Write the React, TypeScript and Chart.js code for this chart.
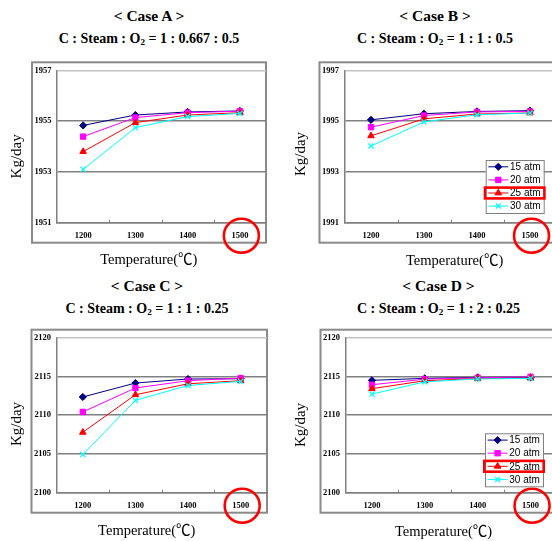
import React, { useEffect, useRef } from 'react';
import { Chart, registerables } from 'chart.js';
import { drawPoint } from 'chart.js/helpers';

Chart.register(...registerables);

// ---------- data ----------
const temperatures = ['1200', '1300', '1400', '1500'];
const pressureLabels = ['15 atm', '20 atm', '25 atm', '30 atm'];
const seriesColors = ['#000080', '#FF00FF', '#FF0000', '#00FFFF'];
const seriesMarkers = ['rectRot', 'rect', 'triangle', 'crossRot'];

const caseA_15 = [1954.83, 1955.24, 1955.36, 1955.4];
const caseA_20 = [1954.39, 1955.14, 1955.33, 1955.39];
const caseA_25 = [1953.8, 1954.94, 1955.24, 1955.33];
const caseA_30 = [1953.1, 1954.74, 1955.18, 1955.3];

const caseB_15 = [1995.05, 1995.29, 1995.38, 1995.41];
const caseB_20 = [1994.76, 1995.22, 1995.36, 1995.38];
const caseB_25 = [1994.42, 1995.09, 1995.28, 1995.32];
const caseB_30 = [1994.02, 1994.97, 1995.25, 1995.32];

const caseC_15 = [2112.35, 2114.15, 2114.67, 2114.7];
const caseC_20 = [2110.42, 2113.51, 2114.45, 2114.79];
const caseC_25 = [2107.79, 2112.64, 2114.06, 2114.45];
const caseC_30 = [2104.92, 2111.91, 2113.84, 2114.36];

const caseD_15 = [2114.5, 2114.75, 2114.87, 2114.9];
const caseD_20 = [2113.93, 2114.65, 2114.83, 2114.95];
const caseD_25 = [2113.42, 2114.45, 2114.72, 2114.78];
const caseD_30 = [2112.73, 2114.3, 2114.68, 2114.75];

const yTicksA = [1951, 1953, 1955, 1957];
const yTicksB = [1991, 1993, 1995, 1997];
const yTicksCD = [2100, 2105, 2110, 2115, 2120];

const caseTitles = ['< Case A >', '< Case B >', '< Case C >', '< Case D >'];
const ratioTexts = ['1 : 0.667 : 0.5', '1 : 1 : 0.5', '1 : 1 : 0.25', '1 : 2 : 0.25'];
const xAxisTitle = 'Temperature(℃)';
const yAxisTitle = 'Kg/day';

// ---------- layout ----------
type Layout = {
  left: number; top: number; width: number; height: number;
  area: { l: number; t: number; r: number; b: number };
  xTitle: [number, number]; yTitle: [number, number];
  legend?: { dx: number; dy: number };
  titleCenter: number; titleTop: number;
};

const layouts: Layout[] = [
  { left: 0, top: 55, width: 276, height: 215, area: { l: 57, t: 15.3, r: 266, b: 167.7 },
    xTitle: [148.8, 205], yTitle: [17, 101.3], titleCenter: 149, titleTop: 0 },
  { left: 276, top: 55, width: 290, height: 215, area: { l: 68.5, t: 15.3, r: 280.5, b: 167.7 },
    xTitle: [178.6, 206.5], yTitle: [25, 99], legend: { dx: -70.8, dy: 89.7 }, titleCenter: 435, titleTop: 0 },
  { left: 0, top: 325, width: 276, height: 216, area: { l: 56.5, t: 12.7, r: 267, b: 167.7 },
    xTitle: [146.7, 206], yTitle: [16.7, 99], titleCenter: 147, titleTop: 270 },
  { left: 276, top: 325, width: 290, height: 216, area: { l: 69.5, t: 12.7, r: 281, b: 167.7 },
    xTitle: [167.5, 206.7], yTitle: [25, 100], legend: { dx: -72, dy: 95.6 }, titleCenter: 438.5, titleTop: 270 },
];

const serif = "'Liberation Serif', 'Times New Roman', 'Noto Sans CJK KR', serif";

const decorPlugin = {
  id: 'decor',
  beforeDraw(chart: any) {
    const { ctx, chartArea: a } = chart;
    ctx.save();
    ctx.fillStyle = '#ffffff';
    ctx.fillRect(0, 0, chart.width, chart.height);
    ctx.strokeStyle = '#8a8a8a';
    ctx.lineWidth = 2;
    ctx.strokeRect(a.left - 25, a.top - 8, a.right - a.left + 25, a.bottom - a.top + 28);
    ctx.restore();
  },
  afterDraw(chart: any, _args: any, opts: any) {
    const { ctx, chartArea: a } = chart;
    const xs = chart.scales.x;
    ctx.save();
    // inner tick marks on category boundaries
    ctx.strokeStyle = '#808080';
    ctx.lineWidth = 1;
    for (let i = 0; i < temperatures.length - 1; i++) {
      const x = Math.round((xs.getPixelForTick(i) + xs.getPixelForTick(i + 1)) / 2) + 0.5;
      ctx.beginPath();
      ctx.moveTo(x, a.bottom);
      ctx.lineTo(x, a.bottom - 3);
      ctx.stroke();
    }
    // axis titles
    ctx.fillStyle = '#000';
    ctx.textAlign = 'center';
    ctx.textBaseline = 'middle';
    ctx.font = `14.5px ${serif}`;
    ctx.fillText(xAxisTitle, opts.xTitle[0], opts.xTitle[1]);
    ctx.save();
    ctx.translate(opts.yTitle[0], opts.yTitle[1]);
    ctx.rotate(-Math.PI / 2);
    ctx.font = `15px ${serif}`;
    ctx.fillText(yAxisTitle, 0, 0);
    ctx.restore();
    // red circle around last category label
    const last = temperatures.length - 1;
    ctx.strokeStyle = '#FF0000';
    ctx.lineWidth = 2.6;
    ctx.beginPath();
    ctx.ellipse(xs.getPixelForTick(last) + 1.5, a.bottom + 13, 17.5, 17, 0, 0, Math.PI * 2);
    ctx.stroke();
    // legend
    if (opts.legend) {
      const lx = a.right + opts.legend.dx;
      const ly = a.top + opts.legend.dy;
      const w = 58, h = 53;
      ctx.fillStyle = '#fff';
      ctx.fillRect(lx, ly, w, h);
      ctx.strokeStyle = '#808080';
      ctx.lineWidth = 1;
      ctx.strokeRect(lx + 0.5, ly + 0.5, w, h);
      chart.data.datasets.forEach((ds: any, i: number) => {
        const cy = ly + 6.8 + i * 13.1;
        ctx.strokeStyle = ds.borderColor;
        ctx.lineWidth = 1;
        ctx.beginPath();
        ctx.moveTo(lx + 2.6, cy);
        ctx.lineTo(lx + 22.6, cy);
        ctx.stroke();
        ctx.fillStyle = ds.backgroundColor;
        ctx.strokeStyle = ds.borderColor;
        ctx.lineWidth = ds.pointBorderWidth;
        drawPoint(ctx, { pointStyle: ds.pointStyle, radius: ds.pointRadius, rotation: 0, borderWidth: ds.pointBorderWidth } as any, lx + 12.6, cy);
        ctx.fillStyle = '#000';
        ctx.textAlign = 'left';
        ctx.textBaseline = 'middle';
        ctx.font = "10px 'Liberation Sans', Arial, sans-serif";
        ctx.fillText(ds.label, lx + 24.3, cy + 0.5);
      });
      const hy = ly + 6.8 + 2 * 13.1;
      ctx.strokeStyle = '#FF0000';
      ctx.lineWidth = 2.6;
      ctx.strokeRect(lx - 0.7, hy - 5.4, w + 1.4, 10.8);
    }
    ctx.restore();
  },
};

type PanelProps = { layout: Layout; series: number[][]; yTicks: number[]; index: number };

function Panel({ layout, series, yTicks, index }: PanelProps) {
  const ref = useRef<HTMLCanvasElement | null>(null);
  useEffect(() => {
    if (!ref.current) return;
    const L = layout;
    const yMin = yTicks[0];
    const yMax = yTicks[yTicks.length - 1];
    const tickFont = { family: serif, size: 8.5, weight: 'bold' as const };
    const chart = new Chart(ref.current, {
      type: 'line',
      data: {
        labels: temperatures,
        datasets: series.map((d, i) => ({
          label: pressureLabels[i],
          data: d,
          borderColor: seriesColors[i],
          backgroundColor: seriesColors[i],
          pointBackgroundColor: seriesColors[i],
          pointBorderColor: seriesColors[i],
          borderWidth: 1,
          pointStyle: seriesMarkers[i] as any,
          pointRadius: i === 0 ? 3.6 : i === 3 ? 3.6 : 3.8,
          pointBorderWidth: i === 3 ? 1.3 : 1,
          tension: 0,
          order: 4 - i,
        })),
      },
      options: {
        responsive: false,
        animation: false,
        events: [],
        layout: { padding: { left: 0, top: L.area.t, right: L.width - L.area.r, bottom: 0 } },
        plugins: {
          legend: { display: false },
          tooltip: { enabled: false },
          decor: { xTitle: L.xTitle, yTitle: L.yTitle, legend: L.legend },
        } as any,
        scales: {
          x: {
            type: 'category',
            offset: true,
            grid: { display: true, drawOnChartArea: false, drawTicks: false },
            border: { display: true, color: '#808080', width: 1.5 },
            ticks: { font: tickFont, color: '#000', padding: 8.2, maxRotation: 0, autoSkip: false },
            afterFit: (s: any) => { s.height = L.height - L.area.b; },
          },
          y: {
            type: 'linear',
            min: yMin,
            max: yMax,
            afterBuildTicks: (s: any) => { s.ticks = yTicks.map((v) => ({ value: v })); },
            grid: {
              drawTicks: false,
              lineWidth: 1.5,
              color: (c: any) => (c.tick && c.tick.value === yMax ? '#c4c4c4' : '#808080'),
            },
            border: { display: true, color: '#808080', width: 1.5 },
            ticks: { font: tickFont, color: '#000', padding: 5.5, callback: (v: any) => String(v) },
            afterFit: (s: any) => { s.width = L.area.l; },
          },
        },
      },
      plugins: [decorPlugin as any],
    });
    return () => chart.destroy();
  }, [layout, series, yTicks]);

  const titleStyle: React.CSSProperties = {
    position: 'absolute', left: layout.titleCenter - 140, width: 280, textAlign: 'center',
    fontFamily: serif, fontWeight: 'bold', color: '#000', whiteSpace: 'nowrap',
  };
  return (
    <>
      <div style={{ ...titleStyle, top: layout.titleTop + 7, fontSize: 15.5, lineHeight: '18px' }}>{caseTitles[index]}</div>
      <div style={{ ...titleStyle, top: layout.titleTop + 30, fontSize: 14, lineHeight: '18px' }}>
        C : Steam : O<sub style={{ fontSize: '0.65em', lineHeight: 0, verticalAlign: '-0.25em' }}>2</sub> = {ratioTexts[index]}
      </div>
      <div style={{ position: 'absolute', left: layout.left, top: layout.top, width: layout.width, height: layout.height }}>
        <canvas ref={ref} width={layout.width} height={layout.height} style={{ display: 'block' }} />
      </div>
    </>
  );
}

const panelSeries = [
  [caseA_15, caseA_20, caseA_25, caseA_30],
  [caseB_15, caseB_20, caseB_25, caseB_30],
  [caseC_15, caseC_20, caseC_25, caseC_30],
  [caseD_15, caseD_20, caseD_25, caseD_30],
];
const panelTicks = [yTicksA, yTicksB, yTicksCD, yTicksCD];

export default function App() {
  return (
    <div style={{ position: 'fixed', left: 0, top: 0, width: 552, height: 541, overflow: 'hidden', background: '#fff' }}>
      {layouts.map((l, i) => (
        <Panel key={i} layout={l} series={panelSeries[i]} yTicks={panelTicks[i]} index={i} />
      ))}
    </div>
  );
}
